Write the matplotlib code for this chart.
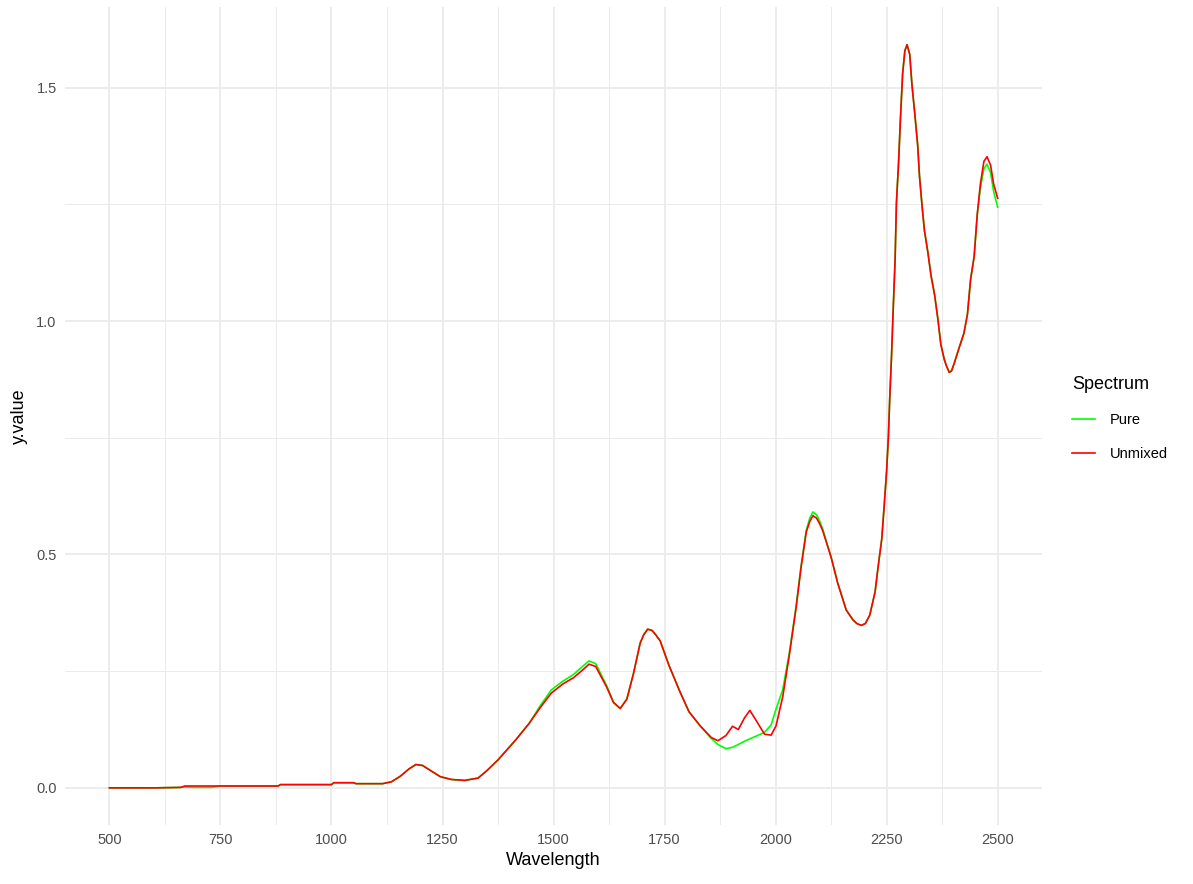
import matplotlib.pyplot as plt

# spectrum samples (nm, absorbance-like value)
wavelength = [500, 600, 660, 670, 690, 700, 730, 750, 880, 885, 1000, 1005, 1050, 1055, 1115,
              1135, 1155, 1175, 1190, 1205, 1225, 1245, 1270, 1300, 1330, 1350, 1375, 1415,
              1445, 1470, 1495, 1520, 1545, 1565, 1580, 1595, 1620, 1635, 1650, 1665, 1680,
              1695, 1703, 1712, 1722, 1730, 1740, 1760, 1785, 1805, 1830, 1855, 1870, 1888,
              1903, 1916, 1930, 1942, 1959, 1975, 1990, 2001, 2016, 2031, 2046, 2057, 2069,
              2077, 2084, 2092, 2099, 2106, 2125, 2140, 2159, 2174, 2183, 2193, 2202, 2212,
              2224, 2231, 2239, 2244, 2250, 2254, 2257, 2261, 2265, 2269, 2272, 2277, 2281,
              2286, 2291, 2296, 2302, 2307, 2313, 2320, 2324, 2330, 2335, 2343, 2350, 2358,
              2365, 2372, 2380, 2385, 2391, 2396, 2402, 2413, 2424, 2432, 2439, 2447, 2454,
              2461, 2469, 2476, 2484, 2491, 2500]

pure = [0.0, 0.0, 0.001, 0.002, 0.001, 0.001, 0.001, 0.004, 0.004, 0.007, 0.007, 0.011, 0.011,
        0.009, 0.009, 0.013, 0.025, 0.041, 0.05, 0.048, 0.036, 0.024, 0.018, 0.016, 0.021,
        0.037, 0.06, 0.103, 0.138, 0.176, 0.21, 0.228, 0.243, 0.26, 0.272, 0.266, 0.218,
        0.183, 0.17, 0.19, 0.245, 0.31, 0.328, 0.34, 0.337, 0.328, 0.315, 0.262, 0.205,
        0.163, 0.133, 0.106, 0.093, 0.084, 0.087, 0.093, 0.1, 0.105, 0.112, 0.119, 0.135,
        0.169, 0.21, 0.29, 0.388, 0.473, 0.552, 0.578, 0.591, 0.585, 0.572, 0.555, 0.494,
        0.438, 0.381, 0.36, 0.352, 0.348, 0.352, 0.37, 0.42, 0.475, 0.533, 0.598, 0.68,
        0.753, 0.835, 0.925, 1.031, 1.13, 1.252, 1.342, 1.432, 1.53, 1.579, 1.592, 1.571,
        1.506, 1.448, 1.375, 1.31, 1.244, 1.195, 1.146, 1.097, 1.056, 1.007, 0.95, 0.917,
        0.903, 0.89, 0.893, 0.909, 0.942, 0.974, 1.015, 1.089, 1.138, 1.228, 1.285, 1.326,
        1.336, 1.318, 1.277, 1.244]

unmixed = [0.0, 0.0, 0.001, 0.004, 0.004, 0.004, 0.004, 0.004, 0.004, 0.007, 0.007, 0.011,
           0.011, 0.009, 0.009, 0.013, 0.025, 0.041, 0.05, 0.048, 0.036, 0.024, 0.018, 0.016,
           0.021, 0.037, 0.06, 0.103, 0.138, 0.172, 0.203, 0.222, 0.236, 0.252, 0.265, 0.26,
           0.215, 0.183, 0.17, 0.19, 0.245, 0.31, 0.328, 0.34, 0.337, 0.328, 0.315, 0.262,
           0.205, 0.163, 0.133, 0.108, 0.101, 0.112, 0.132, 0.125, 0.15, 0.166, 0.14, 0.115,
           0.113, 0.133, 0.195, 0.285, 0.385, 0.47, 0.548, 0.571, 0.583, 0.578, 0.566, 0.551,
           0.494, 0.438, 0.381, 0.36, 0.352, 0.348, 0.352, 0.37, 0.42, 0.475, 0.533, 0.598,
           0.68, 0.753, 0.835, 0.925, 1.031, 1.13, 1.252, 1.342, 1.432, 1.53, 1.579, 1.592,
           1.571, 1.506, 1.448, 1.375, 1.31, 1.244, 1.195, 1.146, 1.097, 1.056, 1.007, 0.95,
           0.917, 0.903, 0.89, 0.893, 0.909, 0.942, 0.974, 1.015, 1.089, 1.138, 1.228, 1.293,
           1.342, 1.352, 1.334, 1.293, 1.263]

x_ticks = [500, 750, 1000, 1250, 1500, 1750, 2000, 2250, 2500]
x_minor = [625, 875, 1125, 1375, 1625, 1875, 2125, 2375]
y_ticks = [0.0, 0.5, 1.0, 1.5]
y_minor = [0.25, 0.75, 1.25]

plt.rcParams['font.family'] = ['Liberation Sans', 'DejaVu Sans']

fig = plt.figure(figsize=(11.93, 8.84), dpi=100)
ax = fig.add_axes([0.0545, 0.0667, 0.819, 0.925])

grid_col = '#EBEBEB'
for v in x_minor:
    ax.axvline(v, color=grid_col, lw=0.7, zorder=0)
for v in y_minor:
    ax.axhline(v, color=grid_col, lw=0.7, zorder=0)
for v in x_ticks:
    ax.axvline(v, color=grid_col, lw=1.3, zorder=0)
for v in y_ticks:
    ax.axhline(v, color=grid_col, lw=1.3, zorder=0)

ax.plot(wavelength, pure, color='#00FF00', lw=1.2, label='Pure', zorder=2)
ax.plot(wavelength, unmixed, color='#FF0000', lw=1.2, label='Unmixed', zorder=3)

ax.set_xlim(400, 2600)
ax.set_ylim(-0.0796, 1.672)
ax.set_xticks(x_ticks)
ax.set_yticks(y_ticks)
ax.set_xticklabels([str(t) for t in x_ticks])
ax.set_yticklabels(['%.1f' % t for t in y_ticks])
ax.tick_params(length=0, labelsize=10.5, labelcolor='#4D4D4D', pad=6)
for s in ax.spines.values():
    s.set_visible(False)

ax.set_xlabel('Wavelength', fontsize=13, labelpad=3)
ax.set_ylabel('y.value', fontsize=13, labelpad=6)

leg = ax.legend(title='Spectrum', loc='center left', bbox_to_anchor=(1.017, 0.497),
                frameon=False, fontsize=10.5, title_fontsize=13, handlelength=1.6,
                labelspacing=1.35, handletextpad=1.0)
leg._legend_box.align = 'left'

fig.savefig('out.png', dpi=100)
